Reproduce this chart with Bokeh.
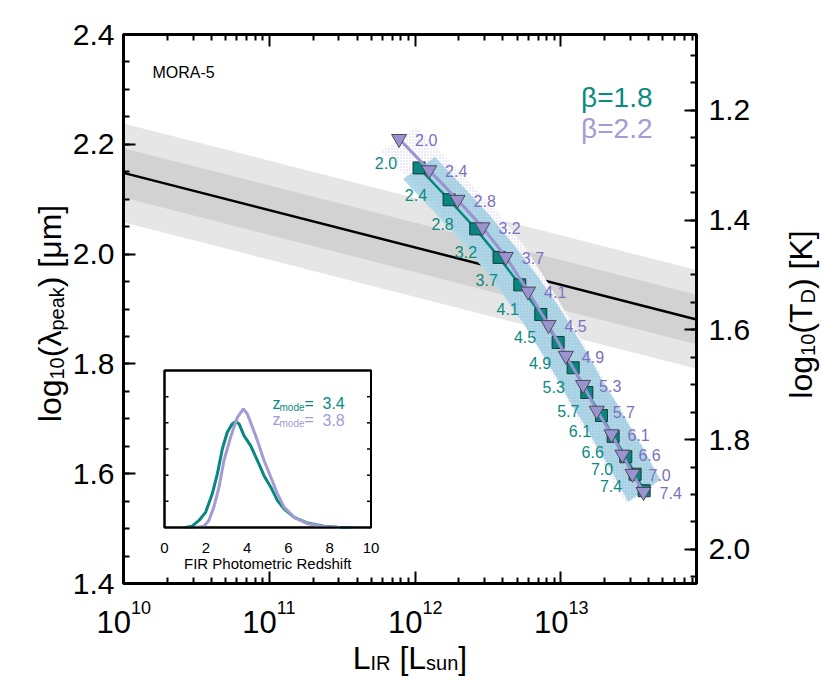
import numpy as np
from bokeh.plotting import figure
from bokeh.models import (Range1d, LinearAxis, LogAxis, FixedTicker, PrintfTickFormatter,
                          CustomJSTickFormatter, Label, LinearScale)
from bokeh.core.properties import value
from bokeh.embed import file_html
from bokeh.resources import INLINE

FONT = "Liberation Sans"

# ---------------- data ----------------
# beta = 1.8 track (squares)
z_b18 = ["2.0", "2.4", "2.8", "3.2", "3.7", "4.1", "4.5", "4.9", "5.3", "5.7", "6.1", "6.6", "7.0", "7.4"]
logL_b18 = [12.027, 12.233, 12.416, 12.576, 12.718, 12.862, 12.981, 13.084, 13.178, 13.278, 13.358, 13.445, 13.509, 13.571]
lam_b18 = [2.157, 2.099, 2.046, 1.994, 1.944, 1.890, 1.839, 1.793, 1.748, 1.706, 1.668, 1.631, 1.599, 1.569]

# beta = 2.2 track (triangles)
z_b22 = ["2.0", "2.4", "2.8", "3.2", "3.7", "4.1", "4.5", "4.9", "5.3", "5.7", "6.1", "6.6", "7.0", "7.4"]
logL_b22 = [11.890, 12.096, 12.291, 12.462, 12.622, 12.775, 12.915, 13.034, 13.152, 13.246, 13.347, 13.422, 13.491, 13.567]
lam_b22 = [2.210, 2.153, 2.099, 2.049, 1.995, 1.932, 1.871, 1.815, 1.762, 1.715, 1.672, 1.635, 1.600, 1.567]

# band half-widths (perpendicular offsets in logL and log lambda)
band_dlogL_b18 = 0.11
band_dlam_b18 = 0.020
band_dlogL_b22 = 0.12
band_dlam_b22 = 0.022

# L_IR - lambda_peak relation and its scatter
rel_logL = [10.0, 13.93]
rel_lam = [2.148, 1.881]
rel_sig1 = 0.045
rel_sig2 = 0.090

# inset: FIR photometric redshift PDFs
pdf_z_b18 = [1.0, 1.34, 1.67, 1.99, 2.31, 2.56, 2.80, 3.04, 3.28, 3.45, 3.61, 3.85, 4.01, 4.17, 4.50,
             4.82, 5.15, 5.47, 5.79, 6.28, 6.93, 7.73, 8.38, 9.0]
pdf_p_b18 = [0.0, 0.05, 0.27, 0.58, 1.28, 2.05, 3.00, 3.64, 3.96, 4.05, 3.96, 3.51, 3.32, 3.13, 2.56,
             1.98, 1.54, 1.03, 0.71, 0.39, 0.17, 0.05, 0.01, 0.0]
pdf_z_b22 = [1.5, 1.91, 2.15, 2.39, 2.64, 2.88, 3.20, 3.53, 3.82, 4.01, 4.26, 4.50, 4.82, 5.15, 5.47,
             5.79, 6.28, 6.93, 7.73, 8.5]
pdf_p_b22 = [0.0, 0.05, 0.27, 0.78, 1.54, 2.56, 3.45, 4.21, 4.53, 4.34, 3.83, 3.32, 2.56, 1.92, 1.28,
             0.78, 0.39, 0.14, 0.04, 0.0]
zmode_b18 = "3.4"
zmode_b22 = "3.8"

# axes ticks
x_major = [1e10, 1e11, 1e12, 1e13]
x_exp = ["10", "11", "12", "13"]
y_major = [1.4, 1.6, 1.8, 2.0, 2.2, 2.4]
t_major = [1.2, 1.4, 1.6, 1.8, 2.0]
inset_xticks = [0, 2, 4, 6, 8, 10]
inset_yticks = [1, 2, 3, 4, 5]

# ---------------- style / geometry ----------------
TEAL = "#06877f"
TEAL_TXT = "#0b8a80"
PURP = "#9b93cf"
PURP_TXT = "#7d71bd"
PURP_LIGHT = "#a39bd3"
GREY1 = "#e6e6e6"
GREY2 = "#d2d2d2"
CYAN = "#add8e6"

PW, PH = 822, 685
FL, FT, FW, FH = 123, 34, 573, 549      # plotting box in page pixels
XMIN, XMAX = 1e10, 10 ** 13.93
YMIN, YMAX = 1.4, 2.4
WIEN = np.log10(2898.0)

dex_px = (np.log10(XMAX) - np.log10(XMIN)) / FW
y_px = (YMAX - YMIN) / FH
x_lo = 10 ** (np.log10(XMIN) - FL * dex_px)
x_hi = 10 ** (np.log10(XMAX) + (PW - FL - FW) * dex_px)
y_lo = YMIN - (PH - FT - FH) * y_px
y_hi = YMAX + FT * y_px

# inset box in page pixels
IL, IR_, IT, IB = 164.0, 370.5, 370.0, 527.0
IXMAX, IYMAX = 10.0, 6.0
sx_i = (IR_ - IL) / IXMAX
sy_i = (IB - IT) / IYMAX

p = figure(x_axis_type="log", x_range=Range1d(x_lo, x_hi), y_range=Range1d(y_lo, y_hi),
           width=PW, height=PH, min_border=0,
           toolbar_location=None, output_backend="svg")
p.background_fill_color = "white"
p.border_fill_color = "white"
p.outline_line_color = None
p.xgrid.visible = False
p.ygrid.visible = False

p.extra_x_ranges = {"inset": Range1d(-IL / sx_i, IXMAX + (PW - IR_) / sx_i), "cx": Range1d(0, PW)}
p.extra_x_scales = {"inset": LinearScale(), "cx": LinearScale()}
p.extra_y_ranges = {"T": Range1d(WIEN - y_lo, WIEN - y_hi),
                    "inset": Range1d(-(PH - IB) / sy_i, IYMAX + IT / sy_i),
                    "cy": Range1d(PH, 0)}
p.extra_y_scales = {"T": LinearScale(), "inset": LinearScale(), "cy": LinearScale()}

def style_axis(ax, labels=True, standoff=10):
    ax.axis_line_width = 3
    ax.axis_line_color = "black"
    ax.major_tick_in = 12
    ax.major_tick_out = 0
    ax.minor_tick_in = 6
    ax.minor_tick_out = 0
    ax.major_tick_line_width = 2
    ax.minor_tick_line_width = 2
    ax.major_label_text_font = FONT
    ax.major_label_text_color = "black"
    ax.major_label_standoff = standoff
    if labels:
        ax.major_label_text_font_size = "30px"
    else:
        ax.major_label_text_font_size = "10px"
        ax.formatter = CustomJSTickFormatter(code="return ''")

# ---------------- relation + scatter bands ----------------
rel_x = [10 ** v for v in rel_logL]
p.varea(x=rel_x, y1=[v - rel_sig2 for v in rel_lam], y2=[v + rel_sig2 for v in rel_lam], fill_color=GREY1)
p.varea(x=rel_x, y1=[v - rel_sig1 for v in rel_lam], y2=[v + rel_sig1 for v in rel_lam], fill_color=GREY2)
p.line(rel_x, rel_lam, line_color="black", line_width=2.5)

def band(logL, lam, dL, dl):
    right_x = [10 ** (a + dL) for a in logL]
    right_y = [b + dl for b in lam]
    left_x = [10 ** (a - dL) for a in logL][::-1]
    left_y = [b - dl for b in lam][::-1]
    return right_x + left_x, right_y + left_y

bx22, by22 = band(logL_b22, lam_b22, band_dlogL_b22, band_dlam_b22)
bx18, by18 = band(logL_b18, lam_b18, band_dlogL_b18, band_dlam_b18)
p.patch(bx22, by22, fill_color="white", line_color=None)
p.patch(bx18, by18, fill_color=CYAN, line_color=None)
p.patch(bx22, by22, fill_alpha=0, line_color=None, hatch_pattern="dot",
        hatch_color="#a59ddb", hatch_alpha=0.55, hatch_scale=3, hatch_weight=1)

# ---------------- tracks ----------------
x18 = [10 ** v for v in logL_b18]
x22 = [10 ** v for v in logL_b22]
p.line(x18, lam_b18, line_color=TEAL, line_width=2.5)
p.scatter(x18, lam_b18, marker="square", size=12, fill_color=TEAL, line_color="#173a38", line_width=1)
p.line(x22, lam_b22, line_color=PURP, line_width=3)
p.scatter(x22, lam_b22, marker="inverted_triangle", size=15, fill_color=PURP, line_color="#4a4a5a", line_width=1)

p.text(x=x18, y=lam_b18, text=z_b18, text_font=value(FONT), text_font_size="16px",
       text_color=TEAL_TXT, text_align="right", text_baseline="middle", x_offset=-22, y_offset=-5)
p.text(x=x22, y=lam_b22, text=z_b22, text_font=value(FONT), text_font_size="16px",
       text_color=PURP_TXT, text_align="left", text_baseline="middle", x_offset=16, y_offset=1)

# ---------------- axes (drawn at the box edges) ----------------
x_minor = [k * d for d in x_major for k in range(2, 10) if k * d < XMAX]
ax_b = p.xaxis[0]
ax_b.ticker = FixedTicker(ticks=x_major, minor_ticks=x_minor)
ax_b.fixed_location = YMIN
ax_b.bounds = (XMIN, XMAX)
style_axis(ax_b, labels=False, standoff=2)
ax_t = LogAxis(ticker=FixedTicker(ticks=x_major, minor_ticks=x_minor), fixed_location=YMAX, bounds=(XMIN, XMAX))
style_axis(ax_t, labels=False, standoff=2)
p.add_layout(ax_t, "above")

y_minor = [round(YMIN + 0.05 * i, 3) for i in range(21)]
ax_l = p.yaxis[0]
ax_l.ticker = FixedTicker(ticks=y_major, minor_ticks=y_minor)
ax_l.formatter = PrintfTickFormatter(format="%.1f")
ax_l.fixed_location = XMIN
ax_l.bounds = (YMIN, YMAX)
style_axis(ax_l, standoff=9)

t_minor = [round(1.1 + 0.05 * i, 3) for i in range(20)]
ax_r = LinearAxis(y_range_name="T", ticker=FixedTicker(ticks=t_major, minor_ticks=t_minor),
                  formatter=PrintfTickFormatter(format="%.1f"), fixed_location=XMAX,
                  bounds=(WIEN - YMAX, WIEN - YMIN))
style_axis(ax_r, standoff=12)
p.add_layout(ax_r, "right")

p.quad(left=XMIN, right=XMAX, bottom=YMIN, top=YMAX, fill_alpha=0, line_color="black", line_width=3)

# ---------------- text annotations ----------------
def lab(x, y, text, size, color="black", align="left", angle=0.0, xr="cx", yr="cy", xo=0):
    p.add_layout(Label(x=x, y=y, x_range_name=xr, y_range_name=yr, text=text, angle=angle,
                       x_offset=xo, text_font=FONT, text_font_size=f"{size}px", text_color=color,
                       text_align=align, text_baseline="alphabetic"))

W = {'0': .556, '1': .556, '2': .556, '3': .556, '4': .556, '5': .556, '6': .556, '7': .556, '8': .556,
     '9': .556, '.': .278, ' ': .278, '(': .333, ')': .333, '[': .278, ']': .278, 'l': .222, 'o': .556,
     'g': .556, 'p': .556, 'e': .556, 'a': .556, 'k': .5, 'm': .833, 'L': .556, 'I': .278, 'R': .722,
     's': .5, 'u': .556, 'n': .556, 'T': .611, 'D': .722, 'K': .667, 'λ': .5, 'μ': .576}

def tw(t, s):
    return sum(W.get(c, .556) for c in t) * s

def rich(pieces, center, base, rotated):
    total = sum(tw(t, s) for t, s, _ in pieces)
    pos = 0.0
    for t, s, sh in pieces:
        stripped = t.lstrip(" ")
        lead = tw(t[:len(t) - len(stripped)], s)
        if rotated:
            lab(base + sh, center + total / 2 - pos - lead, stripped, s, angle=np.pi / 2)
        else:
            lab(center - total / 2 + pos + lead, base + sh, stripped, s)
        pos += tw(t, s)

rich([("log", 32, 0), ("10", 20, 7), ("(λ", 32, 0), ("peak", 20, 7), (") [μm]", 32, 0)], 313, 49, True)
rich([("log", 32, 0), ("10", 20, 7), ("(T", 32, 0), ("D", 20, 7), (") [K]", 32, 0)], 314, 800, True)
rich([("L", 32, 0), ("IR", 20, 5), (" [L", 32, 0), ("sun", 20, 5), ("]", 32, 0)], FL + FW / 2, 657, False)

# x tick labels 10^n
for xv, e in zip(x_major, x_exp):
    lab(xv, 621, "10", 31, align="right", xr="default", xo=7.5)
    lab(xv, 607, e, 18, align="left", xr="default", xo=7.5)

lab(152, 71.5, "MORA-5", 16)
lab(652, 97, "β=1.8", 28, color=TEAL_TXT, align="right")
lab(652, 128, "β=2.2", 28, color=PURP_LIGHT, align="right")

# ---------------- inset ----------------
p.quad(left=0, right=IXMAX, bottom=0, top=IYMAX, x_range_name="inset", y_range_name="inset",
       fill_color="white", line_color="black", line_width=2)
tick_len = 4 / sx_i
p.segment(x0=[0] * len(inset_yticks), y0=inset_yticks, x1=[tick_len] * len(inset_yticks), y1=inset_yticks,
          x_range_name="inset", y_range_name="inset", line_color="black", line_width=1.5)
p.segment(x0=[IXMAX] * len(inset_yticks), y0=inset_yticks, x1=[IXMAX - tick_len] * len(inset_yticks),
          y1=inset_yticks, x_range_name="inset", y_range_name="inset", line_color="black", line_width=1.5)
p.line(pdf_z_b18, pdf_p_b18, x_range_name="inset", y_range_name="inset", line_color=TEAL, line_width=3)
p.line(pdf_z_b22, pdf_p_b22, x_range_name="inset", y_range_name="inset", line_color=PURP_LIGHT, line_width=3)
p.quad(left=0, right=IXMAX, bottom=0, top=IYMAX, x_range_name="inset", y_range_name="inset",
       fill_alpha=0, line_color="black", line_width=2)

for v in inset_xticks:
    p.add_layout(Label(x=v, y=547, x_range_name="inset", y_range_name="cy", text=str(v),
                       text_font=FONT, text_font_size="15px", text_align="center",
                       text_baseline="alphabetic", text_color="black"))
lab((IL + IR_) / 2, 563, "FIR Photometric Redshift", 15, align="center")

for yb, col, zm in [(402.7, TEAL_TXT, zmode_b18), (419.3, PURP_LIGHT, zmode_b22)]:
    lab(272, yb, "z", 16, color=col)
    lab(272, yb + 4, "mode", 10, color=col, xo=7)
    lab(272, yb, "=", 16, color=col, xo=32)
    lab(272, yb, zm, 16, color=col, xo=50)

open("out.html", "w").write(file_html(p, INLINE))
